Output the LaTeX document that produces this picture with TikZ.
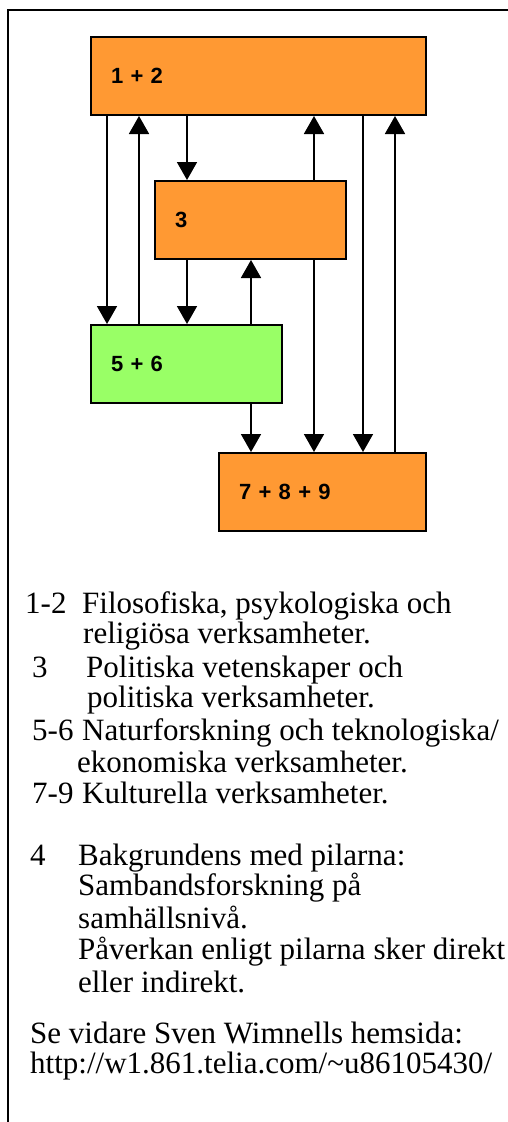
\documentclass[tikz,border=0pt]{standalone}
\usepackage{fontspec}
\setmainfont{Liberation Serif}
\newfontfamily\boxfont{Liberation Sans}
\usetikzlibrary{arrows.meta}
\definecolor{boxorange}{HTML}{FF9933}
\definecolor{boxgreen}{HTML}{99FF66}
\begin{document}
\begin{tikzpicture}[x=1pt,y=-1pt,
  box/.style={draw=black, line width=2pt, inner xsep=20pt, inner ysep=0pt,
    minimum height=78pt, align=left, anchor=center,
    font=\boxfont\bfseries\fontsize{22}{26}\selectfont},
  conn/.style={line width=1.8pt, -{Triangle[length=18pt,width=20pt]}},
  txt/.style={anchor=base west, inner sep=0pt, font=\fontsize{31}{36}\selectfont},
  frame/.style={line width=2pt}]
\useasboundingbox (0,0) rectangle (508,1122);
% outer frame
\draw[frame] (8,1122) -- (8,10) -- (508,10);
% boxes
\node[box, fill=boxorange, minimum width=335pt, text width=295pt] (n12) at (258.5,76) {1 + 2};
\node[box, fill=boxorange, minimum width=191pt, text width=151pt] (n3) at (250.5,220) {3};
\node[box, fill=boxgreen, minimum width=191pt, text width=151pt] (n56) at (186.5,364) {5 + 6};
\node[box, fill=boxorange, minimum width=207pt, text width=167pt] (n789) at (322.5,492) {7 + 8 + 9};
% connector columns
\coordinate (xa) at (107,0);
\coordinate (xb) at (139,0);
\coordinate (xc) at (187,0);
\coordinate (xd) at (251,0);
\coordinate (xe) at (314,0);
\coordinate (xf) at (363,0);
\coordinate (xg) at (395,0);
% connectors
\draw[conn] (n12.south -| xa) -- (n56.north -| xa);
\draw[conn] (n56.north -| xb) -- (n12.south -| xb);
\draw[conn] (n12.south -| xc) -- (n3.north -| xc);
\draw[conn] (n3.south -| xc) -- (n56.north -| xc);
\draw[conn] (n56.north -| xd) -- (n3.south -| xd);
\draw[conn] (n56.south -| xd) -- (n789.north -| xd);
\draw[conn] (n3.north -| xe) -- (n12.south -| xe);
\draw[conn] (n3.south -| xe) -- (n789.north -| xe);
\draw[conn] (n12.south -| xf) -- (n789.north -| xf);
\draw[conn] (n789.north -| xg) -- (n12.south -| xg);
% legend text
\node[txt] (t1a) at (25,613) {1-2};
\node[txt] (t1b) at (82,613) {Filosofiska, psykologiska och};
\node[txt] (t2) at (83,643) {religiösa verksamheter.};
\node[txt] (t3a) at (32,677) {3};
\node[txt] (t3b) at (86,677) {Politiska vetenskaper och};
\node[txt] (t4) at (87,707) {politiska verksamheter.};
\node[txt] (t5a) at (32,740) {5-6};
\node[txt] (t5b) at (82,740) {Naturforskning och teknologiska/};
\node[txt] (t6) at (77,772) {ekonomiska verksamheter.};
\node[txt] (t7a) at (32,803) {7-9};
\node[txt] (t7b) at (82,803) {Kulturella verksamheter.};
\node[txt] (t8a) at (30,865) {4};
\node[txt] (t8b) at (78,865) {Bakgrundens med pilarna:};
\node[txt] (t9) at (78,895) {Sambandsforskning på};
\node[txt] (t10) at (78,928) {samhällsnivå.};
\node[txt] (t11) at (78,959) {Påverkan enligt pilarna sker direkt};
\node[txt] (t12) at (78,992) {eller indirekt.};
\node[txt] (t13) at (30,1043) {Se vidare Sven Wimnells hemsida:};
\node[txt] (t14) at (30,1073) {http://w1.861.telia.com/\textasciitilde u86105430/};
\end{tikzpicture}
\end{document}
